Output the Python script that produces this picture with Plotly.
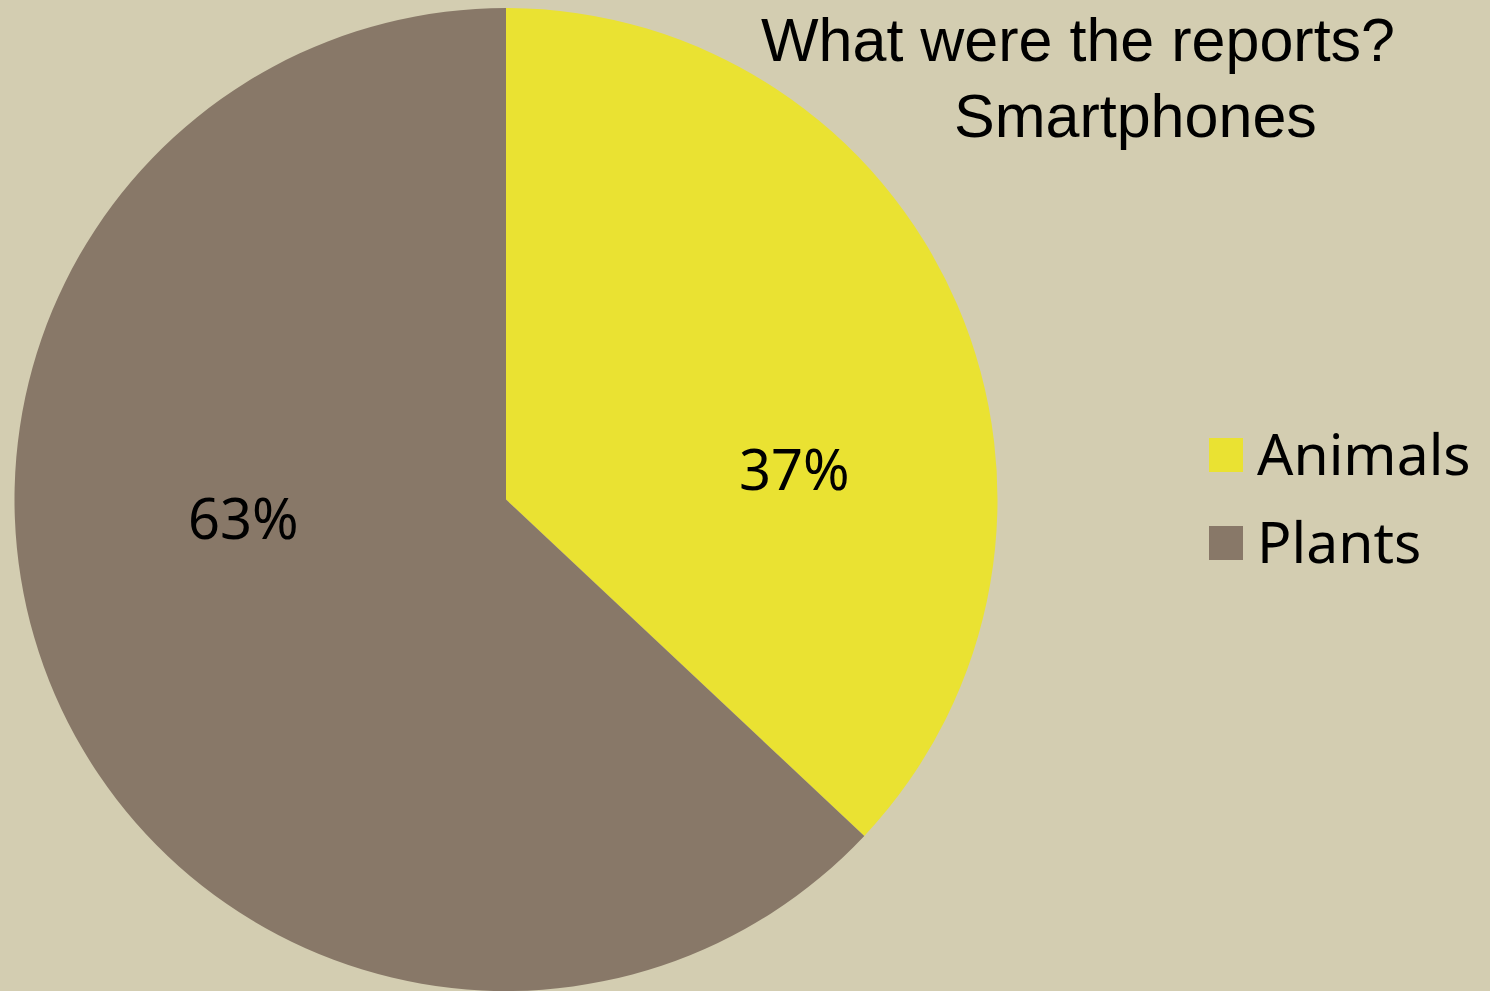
import plotly.graph_objects as go

labels = ["Animals", "Plants"]
values = [37, 63]
colors = ["#EAE232", "#887868"]
title_lines = ["What were the reports?", "Smartphones"]

W, H = 1490, 991
MT = 8

def px_x(px):
    return px / W

def px_y(py):
    return (H - py) / (H - MT)

fig = go.Figure()
fig.add_trace(go.Pie(
    labels=labels, values=values, sort=False, direction="clockwise", rotation=0,
    marker=dict(colors=colors, line=dict(width=0)),
    textinfo="none",
    domain=dict(x=[px_x(14), px_x(998)], y=[0, 1]),
    showlegend=False, hoverinfo="label+percent",
))

total = sum(values)
pct_text = [f"{round(v * 100 / total)}%" for v in values]
label_pos = [(795, 468), (243, 517)]

annotations = [
    dict(text=title_lines[0], x=px_x(1078), y=px_y(40), xref="paper", yref="paper",
         xanchor="center", yanchor="middle", showarrow=False,
         font=dict(family="Liberation Sans", size=61, color="#000000")),
    dict(text=title_lines[1], x=px_x(1135), y=px_y(116), xref="paper", yref="paper",
         xanchor="center", yanchor="middle", showarrow=False,
         font=dict(family="Liberation Sans", size=61, color="#000000")),
]
for t, (lx, ly) in zip(pct_text, label_pos):
    annotations.append(dict(text=t, x=px_x(lx), y=px_y(ly), xref="paper", yref="paper",
                            xanchor="center", yanchor="middle", showarrow=False,
                            font=dict(family="Noto Sans", size=56, color="#000000")))

shapes = []
legend_y = [455, 543]
for lab, col, ly in zip(labels, colors, legend_y):
    shapes.append(dict(type="rect", xref="paper", yref="paper",
                       x0=px_x(1209), x1=px_x(1243), y0=px_y(ly + 17), y1=px_y(ly - 17),
                       fillcolor=col, line=dict(width=0)))
    annotations.append(dict(text=lab, x=px_x(1255), y=px_y(ly - 2), xref="paper", yref="paper",
                            xanchor="left", yanchor="middle", showarrow=False,
                            font=dict(family="Noto Sans", size=57, color="#000000")))

fig.update_layout(
    width=W, height=H,
    margin=dict(l=0, r=0, t=MT, b=0),
    paper_bgcolor="#D3CDB1", plot_bgcolor="#D3CDB1",
    annotations=annotations, shapes=shapes,
)
fig.write_html("out.html", config={"displayModeBar": False},
               post_script="document.body.style.margin='0';document.body.style.background='#D3CDB1';")
